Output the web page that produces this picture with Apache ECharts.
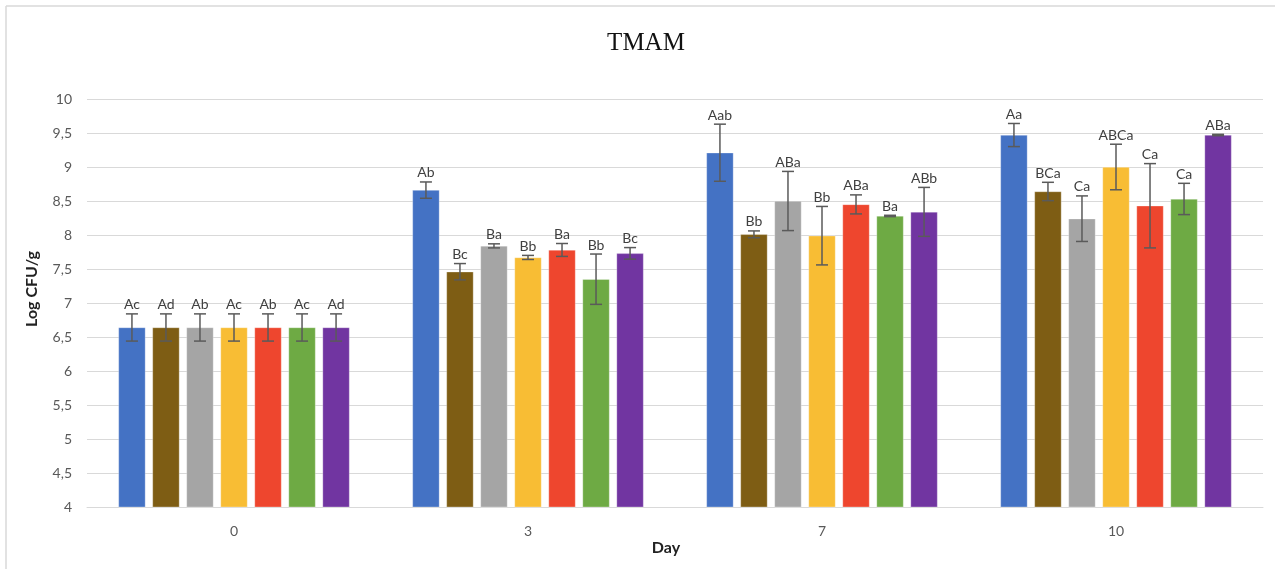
<!DOCTYPE html>
<html>
<head>
<meta charset="utf-8">
<title>TMAM</title>
<script src="https://cdn.jsdelivr.net/npm/echarts@6/dist/echarts.min.js"></script>
<style>
  html, body { margin: 0; padding: 0; background: #fff; }
  #chart { width: 1275px; height: 569px; }
</style>
</head>
<body>
<div id="chart"></div>
<script>
// Sampling days (x categories)
const days = ['0', '3', '7', '10'];

// Y axis tick values
const yTicks = [4, 4.5, 5, 5.5, 6, 6.5, 7, 7.5, 8, 8.5, 9, 9.5, 10];

// Treatment names (one bar per treatment on each day)
const treatments = ['T1', 'T2', 'T3', 'T4', 'T5', 'T6', 'T7'];

// Bar colours per treatment
const colors = ['#4472C4', '#7E5D14', '#A5A5A5', '#F8BD34', '#EE462E', '#6EAA44', '#7135A1'];

// Mean log CFU/g per treatment, by day
const t1Mean = [6.64, 8.66, 9.21, 9.47];
const t2Mean = [6.64, 7.46, 8.01, 8.64];
const t3Mean = [6.64, 7.84, 8.50, 8.24];
const t4Mean = [6.64, 7.67, 7.99, 9.00];
const t5Mean = [6.64, 7.78, 8.45, 8.43];
const t6Mean = [6.64, 7.35, 8.28, 8.53];
const t7Mean = [6.64, 7.73, 8.34, 9.47];

// Standard deviations per treatment, by day
const t1Sd = [0.20, 0.12, 0.42, 0.17];
const t2Sd = [0.20, 0.12, 0.05, 0.135];
const t3Sd = [0.20, 0.03, 0.435, 0.335];
const t4Sd = [0.20, 0.03, 0.43, 0.335];
const t5Sd = [0.20, 0.095, 0.14, 0.62];
const t6Sd = [0.20, 0.37, 0.01, 0.23];
const t7Sd = [0.20, 0.085, 0.36, 0.01];

// Significance letters per treatment, by day
const t1Letters = ['Ac', 'Ab', 'Aab', 'Aa'];
const t2Letters = ['Ad', 'Bc', 'Bb', 'BCa'];
const t3Letters = ['Ab', 'Ba', 'ABa', 'Ca'];
const t4Letters = ['Ac', 'Bb', 'Bb', 'ABCa'];
const t5Letters = ['Ab', 'Ba', 'ABa', 'Ca'];
const t6Letters = ['Ac', 'Bb', 'Ba', 'Ca'];
const t7Letters = ['Ad', 'Bc', 'ABb', 'ABa'];

const means = [t1Mean, t2Mean, t3Mean, t4Mean, t5Mean, t6Mean, t7Mean];
const sds = [t1Sd, t2Sd, t3Sd, t4Sd, t5Sd, t6Sd, t7Sd];
const letters = [t1Letters, t2Letters, t3Letters, t4Letters, t5Letters, t6Letters, t7Letters];

const BAR_W = 27;
const BAR_GAP = 0.26;
const CAP = 6;
const FONT = 'Lato, "Open Sans", "Noto Sans", sans-serif';

const chart = echarts.init(document.getElementById('chart'), null, { renderer: 'canvas' });

const barSeries = treatments.map((name, i) => ({
  name: name,
  type: 'bar',
  barWidth: BAR_W,
  barGap: (BAR_GAP * 100) + '%',
  itemStyle: { color: colors[i], borderColor: 'rgba(255,255,255,0.6)', borderWidth: 0.5 },
  data: means[i],
  z: 2
}));

const n = treatments.length;
const errSeries = treatments.map((name, i) => ({
  name: name + ' sd',
  type: 'custom',
  z: 5,
  data: days.map((d, j) => [j, means[i][j], sds[i][j]]),
  renderItem: function (params, api) {
    const cat = api.value(0);
    const v = api.value(1);
    const e = api.value(2);
    const offset = (i - (n - 1) / 2) * BAR_W * (1 + BAR_GAP);
    const hi = api.coord([cat, v + e]);
    const lo = api.coord([cat, v - e]);
    const x = hi[0] + offset;
    const stroke = { stroke: '#5a5a5a', lineWidth: 1.5 };
    return {
      type: 'group',
      children: [
        { type: 'line', shape: { x1: x, y1: hi[1], x2: x, y2: lo[1] }, style: stroke },
        { type: 'line', shape: { x1: x - CAP, y1: hi[1], x2: x + CAP, y2: hi[1] }, style: stroke },
        { type: 'line', shape: { x1: x - CAP, y1: lo[1], x2: x + CAP, y2: lo[1] }, style: stroke },
        {
          type: 'text',
          style: {
            x: x,
            y: hi[1] - 2,
            text: letters[i][params.dataIndex],
            align: 'center',
            verticalAlign: 'bottom',
            fill: '#404040',
            font: '14px ' + FONT
          }
        }
      ]
    };
  }
}));

const option = {
  backgroundColor: '#ffffff',
  animation: false,
  title: {
    text: 'TMAM',
    left: 641,
    top: 26,
    textAlign: 'center',
    textStyle: {
      fontFamily: '"Liberation Serif", "DejaVu Serif", serif',
      fontSize: 25,
      fontWeight: 'normal',
      color: '#111'
    }
  },
  grid: { left: 87, right: 12, top: 99, bottom: 62, containLabel: false },
  xAxis: {
    type: 'category',
    data: days,
    axisTick: { show: false },
    axisLine: { lineStyle: { color: '#d9d9d9', width: 1 } },
    axisLabel: { color: '#595959', fontSize: 14, fontFamily: FONT, margin: 17 }
  },
  yAxis: {
    type: 'value',
    min: yTicks[0],
    max: yTicks[yTicks.length - 1],
    interval: 0.5,
    axisLine: { show: false },
    axisTick: { show: false },
    splitLine: { lineStyle: { color: '#d9d9d9', width: 1 } },
    axisLabel: {
      color: '#595959',
      fontSize: 14,
      fontFamily: FONT,
      margin: 15,
      formatter: v => String(v).replace('.', ',')
    }
  },
  graphic: [
    {
      type: 'line',
      shape: { x1: 6, y1: 6, x2: 1275, y2: 6 },
      style: { stroke: '#d9d9d9', lineWidth: 1.5 }
    },
    {
      type: 'line',
      shape: { x1: 6, y1: 6, x2: 6, y2: 569 },
      style: { stroke: '#d9d9d9', lineWidth: 1.5 }
    },
    {
      type: 'text',
      x: 32,
      y: 289,
      rotation: Math.PI / 2,
      style: {
        text: 'Log CFU/g',
        align: 'center',
        verticalAlign: 'middle',
        fill: '#222',
        font: 'bold 16px ' + FONT
      }
    },
    {
      type: 'text',
      x: 666,
      y: 548,
      style: {
        text: 'Day',
        align: 'center',
        verticalAlign: 'middle',
        fill: '#222',
        font: 'bold 16px ' + FONT
      }
    }
  ],
  series: barSeries.concat(errSeries)
};

chart.setOption(option);
</script>
</body>
</html>
